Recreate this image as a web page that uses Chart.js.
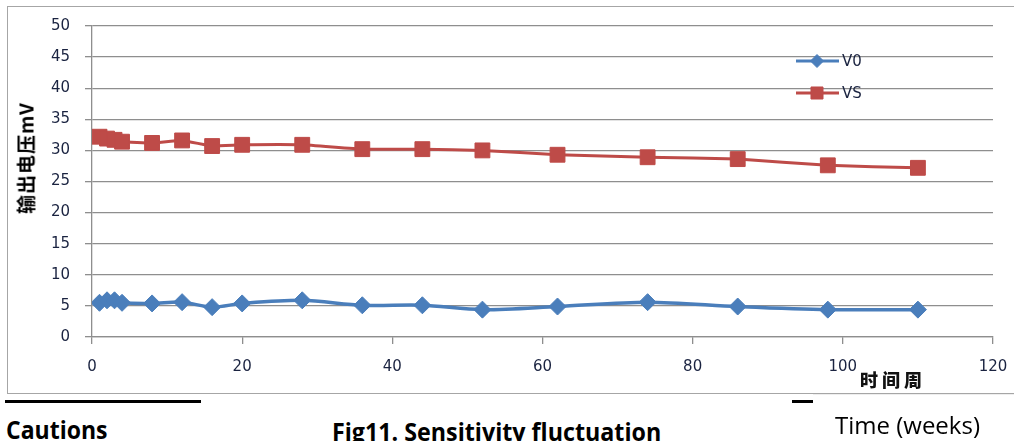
<!DOCTYPE html>
<html>
<head>
<meta charset="utf-8">
<script src="https://cdn.jsdelivr.net/npm/chart.js@4/dist/chart.umd.min.js"></script>
<style>
  html, body { margin: 0; padding: 0; background: #fff; }
  body { width: 1014px; height: 441px; position: relative; overflow: hidden; }
  #frame { position: absolute; left: 7px; top: 6px; width: 1020px; height: 388px;
           border: 1.5px solid #a6a6a6; border-right: none; box-sizing: border-box; }
  #wrap { position: absolute; left: 0; top: 0; width: 1014px; height: 395px; }
  .abs { position: absolute; white-space: nowrap; }
  #ytitle { left: 25px; top: 158px; transform: translate(-50%, -50%) rotate(-90deg);
            font: bold 19px "Noto Sans CJK SC"; letter-spacing: 1px; color: #000; }
  #xtitle { left: 860px; top: 366px; font: 900 18px "Noto Sans CJK SC"; letter-spacing: 4px; color: #111; }
  .rule { position: absolute; height: 3px; background: #000; }
  #cover { position: absolute; left: 813px; top: 394px; width: 201px; height: 47px; background: #fff;
           border-top: 1px solid #eeeeee; }
  .cap { font-family: "Open Sans"; font-weight: bold; font-size: 25px; color: #000; transform-origin: left top; }
</style>
</head>
<body>
<div id="frame"></div>
<div id="wrap"><canvas id="chart"></canvas></div>
<div id="ytitle" class="abs">输出电压mV</div>
<div id="xtitle" class="abs">时间周</div>
<div class="rule" style="left:5px; top:400px; width:196px;"></div>
<div class="rule" style="left:792px; top:400px; width:21px;"></div>
<div id="cover"></div>
<div class="abs cap" style="left:6px; top:412px; transform:scaleX(0.92);">Cautions</div>
<div class="abs cap" style="left:332px; top:414px; transform:scaleX(0.93);">Fig11. Sensitivity fluctuation</div>
<div class="abs" style="left:835px; top:408px; font:24px 'Open Sans'; color:#000;">Time (weeks)</div>

<script>
// ---------------------
// данные
// ---------------------
const weeks = [1, 2, 3, 4, 8, 12, 16, 20, 28, 36, 44, 52, 62, 74, 86, 98, 110];
const v0Values = [5.5, 5.9, 5.9, 5.5, 5.4, 5.6, 4.8, 5.4, 5.9, 5.1, 5.1, 4.4, 4.9, 5.6, 4.9, 4.4, 4.4];
const vsValues = [32.2, 31.9, 31.7, 31.4, 31.2, 31.6, 30.7, 30.9, 30.9, 30.2, 30.2, 30.0, 29.3, 28.9, 28.6, 27.6, 27.2];
const seriesNames = ['V0', 'VS'];
const xTicks = [0, 20, 40, 60, 80, 100, 120];
const yTicks = [0, 5, 10, 15, 20, 25, 30, 35, 40, 45, 50];

const blue = '#4a7ebb';
const red = '#be4b48';
const gridColor = '#8e8e8e';
const labelColor = '#1a2340';

const toPoints = vals => weeks.map((w, i) => ({ x: w, y: vals[i] }));

// легенда внутри области графика
const legendPlugin = {
    id: 'innerLegend',
    afterDraw(chart) {
        const ctx = chart.ctx;
        const rows = [61, 93];
        const sizes = [6.5, 8.5];
        chart.data.datasets.forEach((ds, i) => {
            const y = rows[i];
            ctx.save();
            ctx.strokeStyle = ds.borderColor;
            ctx.lineWidth = 3;
            ctx.beginPath();
            ctx.moveTo(796, y);
            ctx.lineTo(839, y);
            ctx.stroke();
            ctx.fillStyle = ds.backgroundColor;
            ctx.lineWidth = 1;
            Chart.helpers.drawPoint(ctx, {
                pointStyle: ds.pointStyle,
                radius: sizes[i],
                borderWidth: 1,
                rotation: 0
            }, 817, y);
            ctx.fillStyle = labelColor;
            ctx.font = '15px "DejaVu Sans"';
            ctx.textBaseline = 'middle';
            ctx.fillText(ds.label, 842, y + 1);
            ctx.restore();
        });
    }
};

new Chart(document.getElementById('chart'), {
    type: 'line',
    data: {
        datasets: [
            { label: seriesNames[0], data: toPoints(v0Values), borderColor: blue, backgroundColor: blue,
              borderWidth: 3.5, pointStyle: 'rectRot', pointRadius: 8.5, pointBorderWidth: 1, tension: 0.3 },
            { label: seriesNames[1], data: toPoints(vsValues), borderColor: red, backgroundColor: red,
              borderWidth: 3, pointStyle: 'rect', pointRadius: 10.5, pointBorderWidth: 1, tension: 0.1 }
        ]
    },
    options: {
        responsive: true,
        maintainAspectRatio: false,
        animation: false,
        layout: { padding: { left: 8, top: 26, right: 21, bottom: 5 } },
        plugins: { legend: { display: false }, tooltip: { enabled: false } },
        scales: {
            x: {
                type: 'linear', min: 0, max: 120,
                afterBuildTicks: s => { s.ticks = xTicks.map(v => ({ value: v })); },
                afterFit: s => { s.height = 53; s.paddingLeft = 0; s.paddingRight = 0; },
                grid: { drawOnChartArea: false, drawTicks: true, tickLength: 7, color: gridColor, lineWidth: 1.3 },
                border: { color: gridColor, width: 1.3 },
                ticks: { color: labelColor, font: { family: 'DejaVu Sans', size: 15 }, padding: 14, maxRotation: 0 }
            },
            y: {
                min: 0, max: 50,
                afterBuildTicks: s => { s.ticks = yTicks.map(v => ({ value: v })); },
                afterFit: s => { s.width = 84; s.paddingTop = 0; s.paddingBottom = 0; },
                grid: { color: gridColor, lineWidth: 1.3, tickLength: 7 },
                border: { color: gridColor, width: 1.3 },
                ticks: { color: labelColor, font: { family: 'DejaVu Sans', size: 15 }, padding: 15 }
            }
        }
    },
    plugins: [legendPlugin]
});
</script>
</body>
</html>
